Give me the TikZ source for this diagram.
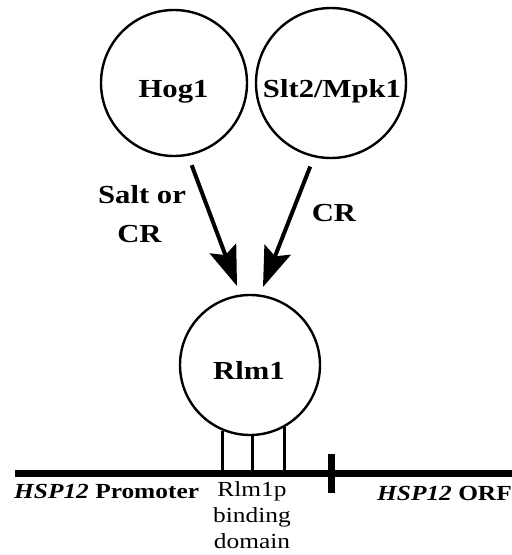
\documentclass[tikz,border=0pt]{standalone}
\usepackage{fontspec}
\setmainfont{Liberation Serif}[FakeStretch=1.18]
\usetikzlibrary{arrows.meta}
\begin{document}
\begin{tikzpicture}[x=1pt,y=-1pt,
  prot/.style={circle,draw,line width=2.4pt,inner sep=0pt},
  biglbl/.style={font=\fontsize{26}{26}\selectfont\bfseries,inner sep=0pt,anchor=base},
  smalllbl/.style={font=\fontsize{21.5}{26}\selectfont,inner sep=0pt},
  sig/.style={line width=4pt,-{Stealth[length=40pt,width=28pt,inset=7pt]}},
  stalk/.style={line width=3.2pt},
  dna/.style={line width=7pt}]
\useasboundingbox (0,0) rectangle (512,555);
% proteins
\node[prot,minimum size=146pt] (hog) at (174,83) {};
\node[prot,minimum size=150pt] (slt) at (331,83) {};
\node[prot,minimum size=140pt] (rlm) at (250,365) {};
\node[biglbl] (hogt) at (173.5,97) {Hog1};
\node[biglbl] (sltt) at (332,97) {Slt2/Mpk1};
\node[biglbl] (rlmt) at (249,379) {Rlm1};
% signals
\coordinate (tipA) at (237,286);
\coordinate (tipB) at (263,287);
\draw[sig,shorten <=10pt] (hog.-79) -- (tipA);
\draw[sig,shorten <=10pt] (slt.-103) -- (tipB);
\node[biglbl] (salt) at (142,203) {Salt or};
\node[biglbl] (crA) at (139.5,242) {CR};
\node[biglbl] (crB) at (334,221) {CR};
% DNA
\coordinate (lineL) at (15,473);
\coordinate (lineR) at (512,473);
\draw[dna] (lineL) -- (lineR);
\coordinate (tickT) at (331,454);
\coordinate (tickB) at (331,493);
\draw[dna] (tickT) -- (tickB);
\draw[stalk] (rlm.-113.6) -- (rlm.-113.6 |- lineL);
\draw[stalk] (rlm.-88.4) -- (rlm.-88.4 |- lineL);
\draw[stalk] (rlm.-61.9) -- (rlm.-61.9 |- lineL);
% labels
\node[smalllbl,font=\fontsize{21.5}{26}\selectfont\bfseries,anchor=base west] (prom) at (14,498) {\textit{HSP12} Promoter};
\node[smalllbl,font=\fontsize{21.5}{26}\selectfont\bfseries,anchor=base east] (orf) at (512,500) {\textit{HSP12} ORF};
\node[smalllbl,align=center,anchor=north] (bd) at (252,481) {Rlm1p\\binding\\domain};
\end{tikzpicture}
\end{document}
